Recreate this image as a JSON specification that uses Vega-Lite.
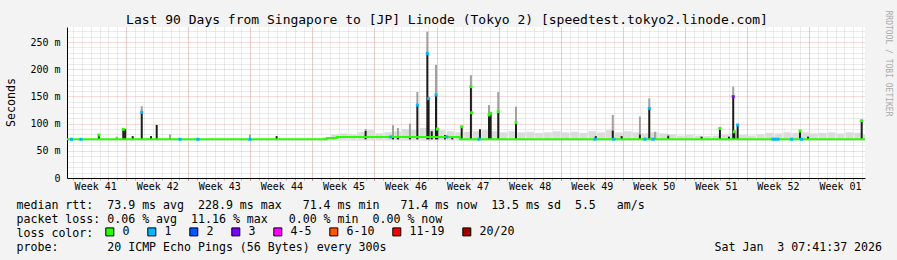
{
  "$schema": "https://vega.github.io/schema/vega-lite/v6.json",
  "width": 798,
  "height": 151,
  "autosize": {"type": "none"},
  "padding": {"left": 67, "top": 27, "right": 32, "bottom": 82},
  "background": "#f3f3f3",
  "config": {
    "view": {"fill": "white", "stroke": null},
    "font": "DejaVu Sans Mono"
  },
  "title": {
    "text": "Last 90 Days from Singapore to [JP] Linode (Tokyo 2) [speedtest.tokyo2.linode.com]",
    "font": "DejaVu Sans Mono",
    "fontSize": 13,
    "fontWeight": "normal",
    "color": "#000000",
    "anchor": "middle",
    "frame": "group",
    "dx": -19,
    "offset": -27,
    "baseline": "alphabetic"
  },
  "datasets": {
    "smoke": [
      {"t": "2025-11-03", "hi": 75}, {"t": "2025-11-04", "hi": 80}, {"t": "2025-11-05", "hi": 82},
      {"t": "2025-11-06", "hi": 80}, {"t": "2025-11-07", "hi": 84}, {"t": "2025-11-08", "hi": 88},
      {"t": "2025-11-09", "hi": 82}, {"t": "2025-11-10", "hi": 84}, {"t": "2025-11-11", "hi": 86},
      {"t": "2025-11-12", "hi": 90}, {"t": "2025-11-13", "hi": 88}, {"t": "2025-11-14", "hi": 92},
      {"t": "2025-11-15", "hi": 90}, {"t": "2025-11-16", "hi": 88}, {"t": "2025-11-17", "hi": 86},
      {"t": "2025-11-18", "hi": 84}, {"t": "2025-11-19", "hi": 85}, {"t": "2025-11-20", "hi": 86},
      {"t": "2025-11-21", "hi": 88}, {"t": "2025-11-22", "hi": 86}, {"t": "2025-11-23", "hi": 84},
      {"t": "2025-11-24", "hi": 86}, {"t": "2025-11-25", "hi": 84}, {"t": "2025-11-26", "hi": 85},
      {"t": "2025-11-27", "hi": 83}, {"t": "2025-11-28", "hi": 84}, {"t": "2025-11-29", "hi": 86},
      {"t": "2025-11-30", "hi": 84}, {"t": "2025-12-01", "hi": 85}, {"t": "2025-12-02", "hi": 83},
      {"t": "2025-12-03", "hi": 86}, {"t": "2025-12-04", "hi": 84}, {"t": "2025-12-05", "hi": 88},
      {"t": "2025-12-06", "hi": 84}, {"t": "2025-12-07", "hi": 86}, {"t": "2025-12-08", "hi": 84},
      {"t": "2025-12-09", "hi": 82}, {"t": "2025-12-10", "hi": 84}, {"t": "2025-12-11", "hi": 82},
      {"t": "2025-12-12", "hi": 80}, {"t": "2025-12-13", "hi": 78}, {"t": "2025-12-14", "hi": 79},
      {"t": "2025-12-15", "hi": 78}, {"t": "2025-12-16", "hi": 77}, {"t": "2025-12-17", "hi": 78},
      {"t": "2025-12-18", "hi": 80}, {"t": "2025-12-19", "hi": 82}, {"t": "2025-12-20", "hi": 79},
      {"t": "2025-12-21", "hi": 78}, {"t": "2025-12-22", "hi": 80}, {"t": "2025-12-23", "hi": 83},
      {"t": "2025-12-24", "hi": 82}, {"t": "2025-12-25", "hi": 84}, {"t": "2025-12-26", "hi": 83},
      {"t": "2025-12-27", "hi": 84}, {"t": "2025-12-28", "hi": 82}, {"t": "2025-12-29", "hi": 83},
      {"t": "2025-12-30", "hi": 84}, {"t": "2025-12-31", "hi": 82}, {"t": "2026-01-01", "hi": 84},
      {"t": "2026-01-02", "hi": 83}, {"t": "2026-01-03", "hi": 80}
    ],
    "spikes": [
      {"t": "2025-10-08T22:00:00Z", "top": 79, "tip": 80},
      {"t": "2025-10-10T22:00:00Z", "top": 72, "tip": 76},
      {"t": "2025-10-11T16:00:00Z", "top": 89.5},
      {"t": "2025-10-11T21:00:00Z", "top": 89.5},
      {"t": "2025-10-12T17:30:00Z", "top": 77},
      {"t": "2025-10-13T18:00:00Z", "top": 120.7, "tip": 132},
      {"t": "2025-10-14T19:00:00Z", "top": 77},
      {"t": "2025-10-15T10:30:00Z", "top": 97.4, "tip": 98},
      {"t": "2025-10-16T22:30:00Z", "top": 72, "tip": 80},
      {"t": "2025-10-25T23:00:00Z", "top": 72, "tip": 80},
      {"t": "2025-10-28T23:00:00Z", "top": 77},
      {"t": "2025-11-08T00:00:00Z", "top": 86.4, "tip": 90},
      {"t": "2025-11-11T02:00:00Z", "top": 76, "tip": 97},
      {"t": "2025-11-11T15:30:00Z", "top": 76, "tip": 92},
      {"t": "2025-11-13T00:00:00Z", "top": 76, "tip": 100},
      {"t": "2025-11-13T20:00:00Z", "top": 134, "tip": 158},
      {"t": "2025-11-14T23:00:00Z", "top": 229, "tip": 269},
      {"t": "2025-11-15T02:30:00Z", "top": 146},
      {"t": "2025-11-15T11:00:00Z", "top": 86},
      {"t": "2025-11-15T22:30:00Z", "top": 152.6, "tip": 208},
      {"t": "2025-11-16T02:00:00Z", "top": 90},
      {"t": "2025-11-16T23:00:00Z", "top": 79},
      {"t": "2025-11-17T18:30:00Z", "top": 77},
      {"t": "2025-11-18T20:00:00Z", "top": 94.3},
      {"t": "2025-11-19T21:00:00Z", "top": 168, "tip": 189},
      {"t": "2025-11-20T21:30:00Z", "top": 89.5},
      {"t": "2025-11-21T22:00:00Z", "top": 116, "tip": 134},
      {"t": "2025-11-22T02:30:00Z", "top": 119},
      {"t": "2025-11-22T23:00:00Z", "top": 122, "tip": 158},
      {"t": "2025-11-24T23:00:00Z", "top": 101.7, "tip": 131},
      {"t": "2025-12-03T23:00:00Z", "top": 77},
      {"t": "2025-12-05T21:00:00Z", "top": 87, "tip": 116},
      {"t": "2025-12-06T21:00:00Z", "top": 77},
      {"t": "2025-12-08T22:30:00Z", "top": 80, "tip": 113},
      {"t": "2025-12-09T23:45:00Z", "top": 128, "tip": 146.5},
      {"t": "2025-12-10T15:30:00Z", "top": 72, "tip": 85},
      {"t": "2025-12-12T03:00:00Z", "top": 77, "tip": 80},
      {"t": "2025-12-15T21:30:00Z", "top": 76},
      {"t": "2025-12-17T23:00:00Z", "top": 91.2},
      {"t": "2025-12-18T23:30:00Z", "top": 76},
      {"t": "2025-12-19T11:00:00Z", "top": 149.5, "tip": 168},
      {"t": "2025-12-19T14:00:00Z", "top": 85},
      {"t": "2025-12-19T23:00:00Z", "top": 97.4},
      {"t": "2025-12-26T23:45:00Z", "top": 86.4, "tip": 88},
      {"t": "2025-12-27T21:30:00Z", "top": 76},
      {"t": "2026-01-02T22:45:00Z", "top": 105.4, "tip": 107}
    ],
    "median": [
      {"t": "2025-10-05T07:41:37Z", "v": 71.2},
      {"t": "2025-11-03T15:00:00Z", "v": 73.5},
      {"t": "2025-11-04T18:00:00Z", "v": 75.5},
      {"t": "2025-11-18T15:00:00Z", "v": 71.4},
      {"t": "2026-01-03T07:41:37Z", "v": 71.4}
    ],
    "loss": [
      {"t": "2025-10-05T20:00:00Z", "v": 71.2, "loss": "1"},
      {"t": "2025-10-06T21:30:00Z", "v": 71.2, "loss": "1"},
      {"t": "2025-10-18T01:30:00Z", "v": 71.2, "loss": "1"},
      {"t": "2025-10-20T02:00:00Z", "v": 71.2, "loss": "1"},
      {"t": "2025-10-25T23:00:00Z", "v": 71.2, "loss": "1"},
      {"t": "2025-11-10T20:00:00Z", "v": 75.5, "loss": "1"},
      {"t": "2025-11-17T03:30:00Z", "v": 75.5, "loss": "1"},
      {"t": "2025-11-20T19:00:00Z", "v": 71.4, "loss": "1"},
      {"t": "2025-12-03T21:00:00Z", "v": 71.4, "loss": "1"},
      {"t": "2025-12-06T00:00:00Z", "v": 71.4, "loss": "1"},
      {"t": "2025-12-09T12:00:00Z", "v": 71.4, "loss": "1"},
      {"t": "2025-12-10T10:00:00Z", "v": 71.4, "loss": "1"},
      {"t": "2025-12-23T22:30:00Z", "v": 71.4, "loss": "1"},
      {"t": "2025-12-24T04:00:00Z", "v": 71.4, "loss": "1"},
      {"t": "2025-12-24T12:00:00Z", "v": 71.4, "loss": "1"},
      {"t": "2025-12-26T01:00:00Z", "v": 71.4, "loss": "1"},
      {"t": "2025-12-27T04:00:00Z", "v": 71.4, "loss": "1"},
      {"t": "2025-10-08T22:00:00Z", "v": 79, "loss": "0"},
      {"t": "2025-10-11T16:00:00Z", "v": 89.5, "loss": "0"},
      {"t": "2025-10-13T18:00:00Z", "v": 120.7, "loss": "1"},
      {"t": "2025-11-13T20:00:00Z", "v": 134, "loss": "1"},
      {"t": "2025-11-14T23:00:00Z", "v": 229, "loss": "1"},
      {"t": "2025-11-15T02:30:00Z", "v": 146, "loss": "1"},
      {"t": "2025-11-15T22:30:00Z", "v": 152.6, "loss": "1"},
      {"t": "2025-11-16T02:00:00Z", "v": 90, "loss": "0"},
      {"t": "2025-11-18T20:00:00Z", "v": 94.3, "loss": "0"},
      {"t": "2025-11-19T21:00:00Z", "v": 168, "loss": "0"},
      {"t": "2025-11-19T23:00:00Z", "v": 120, "loss": "0"},
      {"t": "2025-11-21T22:00:00Z", "v": 116, "loss": "0"},
      {"t": "2025-11-22T02:30:00Z", "v": 119, "loss": "0"},
      {"t": "2025-11-22T23:00:00Z", "v": 122, "loss": "0"},
      {"t": "2025-11-24T23:00:00Z", "v": 101.7, "loss": "0"},
      {"t": "2025-12-09T23:45:00Z", "v": 128, "loss": "1"},
      {"t": "2025-12-17T23:00:00Z", "v": 91.2, "loss": "0"},
      {"t": "2025-12-19T11:00:00Z", "v": 149.5, "loss": "3"},
      {"t": "2025-12-19T14:00:00Z", "v": 85, "loss": "0"},
      {"t": "2025-12-19T23:00:00Z", "v": 97.4, "loss": "1"},
      {"t": "2025-12-26T23:45:00Z", "v": 86.4, "loss": "0"},
      {"t": "2026-01-02T22:45:00Z", "v": 105.4, "loss": "0"}
    ]
  },
  "layer": [
    {
      "data": {"name": "smoke"},
      "mark": {"type": "bar", "color": "#dcdcdc", "clip": true},
      "encoding": {
        "x": {
          "field": "t", "type": "temporal", "timeUnit": {"unit": "yearmonthdate", "utc": true},
          "scale": {"type": "utc", "nice": false, "domain": [{"year": 2025, "month": 10, "date": 5, "hours": 7, "minutes": 41, "seconds": 37, "utc": true}, {"year": 2026, "month": 1, "date": 3, "hours": 7, "minutes": 41, "seconds": 37, "utc": true}]},
          "axis": {"orient": "bottom", "tickCount": {"interval": "day", "step": 1}, "grid": true, "gridColor": "#bababa", "gridDash": [1, 1], "gridOpacity": 0.6, "labels": false, "domain": false, "ticks": true, "tickSize": 2, "tickColor": "#aaaaaa", "title": null}
        },
        "y": {
          "field": "hi", "type": "quantitative",
          "scale": {"domain": [0, 277.6], "nice": false, "zero": true},
          "axis": {"orient": "left", "values": [10, 20, 30, 40, 60, 70, 80, 90, 110, 120, 130, 140, 160, 170, 180, 190, 210, 220, 230, 240, 260, 270], "grid": true, "gridColor": "#bababa", "gridDash": [1, 1], "gridOpacity": 0.6, "labels": false, "ticks": false, "domain": false, "title": null}
        },
        "y2": {"datum": 70}
      }
    },
    {
      "data": {"name": "spikes"},
      "transform": [{"filter": "datum.tip != null"}],
      "mark": {"type": "rule", "color": "#a0a0a0", "strokeWidth": 2},
      "encoding": {
        "x": {
          "field": "t", "type": "temporal",
          "scale": {"type": "utc", "nice": false, "domain": [{"year": 2025, "month": 10, "date": 5, "hours": 7, "minutes": 41, "seconds": 37, "utc": true}, {"year": 2026, "month": 1, "date": 3, "hours": 7, "minutes": 41, "seconds": 37, "utc": true}]},
          "axis": {"orient": "bottom", "tickCount": {"interval": "week", "step": 1}, "grid": true, "gridColor": "#e07070", "gridDash": [1, 1], "gridOpacity": 0.5, "labels": false, "domain": false, "ticks": true, "tickSize": 2, "tickColor": "#e07070", "title": null}
        },
        "y": {
          "field": "top", "type": "quantitative",
          "scale": {"domain": [0, 277.6], "nice": false, "zero": true},
          "axis": {"orient": "left", "values": [0, 50, 100, 150, 200, 250], "grid": true, "gridColor": "#e07070", "gridDash": [1, 1], "gridOpacity": 0.5, "labelExpr": "datum.value == 0 ? '0' : datum.value + ' m'", "labelFont": "DejaVu Sans Mono", "labelFontSize": 10, "labelColor": "#000000", "labelPadding": 7, "ticks": false, "tickSize": 0, "domain": true, "domainColor": "#000000", "title": "Seconds", "titleFont": "DejaVu Sans Mono", "titleFontSize": 11.6, "titleFontWeight": "normal", "titleColor": "#000000", "titleX": -56, "titleY": 75, "titleAngle": 270, "titleAlign": "center", "titleBaseline": "middle"}
        },
        "y2": {"field": "tip"}
      }
    },
    {
      "data": {"name": "spikes"},
      "mark": {"type": "rule", "color": "#1c1c1c", "strokeWidth": 2},
      "encoding": {
        "x": {
          "field": "t", "type": "temporal",
          "scale": {"type": "utc", "nice": false, "domain": [{"year": 2025, "month": 10, "date": 5, "hours": 7, "minutes": 41, "seconds": 37, "utc": true}, {"year": 2026, "month": 1, "date": 3, "hours": 7, "minutes": 41, "seconds": 37, "utc": true}]},
          "axis": {
            "orient": "bottom",
            "values": [
              {"year": 2025, "month": 10, "date": 8, "hours": 12, "utc": true},
              {"year": 2025, "month": 10, "date": 15, "hours": 12, "utc": true},
              {"year": 2025, "month": 10, "date": 22, "hours": 12, "utc": true},
              {"year": 2025, "month": 10, "date": 29, "hours": 12, "utc": true},
              {"year": 2025, "month": 11, "date": 5, "hours": 12, "utc": true},
              {"year": 2025, "month": 11, "date": 12, "hours": 12, "utc": true},
              {"year": 2025, "month": 11, "date": 19, "hours": 12, "utc": true},
              {"year": 2025, "month": 11, "date": 26, "hours": 12, "utc": true},
              {"year": 2025, "month": 12, "date": 3, "hours": 12, "utc": true},
              {"year": 2025, "month": 12, "date": 10, "hours": 12, "utc": true},
              {"year": 2025, "month": 12, "date": 17, "hours": 12, "utc": true},
              {"year": 2025, "month": 12, "date": 24, "hours": 12, "utc": true},
              {"year": 2025, "month": 12, "date": 31, "hours": 12, "utc": true}
            ],
            "labelExpr": "'Week ' + utcFormat(datum.value, '%V')",
            "labelFont": "DejaVu Sans Mono", "labelFontSize": 10, "labelColor": "#000000", "labelPadding": 3,
            "labelFlush": false, "labelOverlap": false, "labelBaseline": "top",
            "grid": false, "ticks": false, "tickSize": 0, "domain": true, "domainColor": "#000000",
            "title": [
              "median rtt:\u00a0\u00a073.9 ms avg\u00a0\u00a0228.9 ms max\u00a0\u00a0\u00a071.4 ms min\u00a0\u00a0\u00a071.4 ms now\u00a0\u00a013.5 ms sd\u00a0\u00a05.5\u00a0\u00a0\u00a0am/s",
              "packet loss: 0.06 % avg\u00a0\u00a011.16 % max\u00a0\u00a0\u00a00.00 % min\u00a0\u00a00.00 % now",
              "loss color:",
              "probe:\u00a0\u00a0\u00a0\u00a0\u00a0\u00a0\u00a020 ICMP Echo Pings (56 Bytes) every 300s\u00a0\u00a0\u00a0\u00a0\u00a0\u00a0\u00a0\u00a0\u00a0\u00a0\u00a0\u00a0\u00a0\u00a0\u00a0\u00a0\u00a0\u00a0\u00a0\u00a0\u00a0\u00a0\u00a0\u00a0\u00a0\u00a0\u00a0\u00a0\u00a0\u00a0\u00a0\u00a0\u00a0\u00a0\u00a0\u00a0\u00a0\u00a0\u00a0\u00a0\u00a0\u00a0\u00a0\u00a0\u00a0\u00a0\u00a0Sat Jan\u00a0\u00a03 07:41:37 2026"
            ],
            "titleFont": "DejaVu Sans Mono", "titleFontSize": 11.6, "titleFontWeight": "normal", "titleColor": "#000000",
            "titleAlign": "left", "titleAnchor": "start", "titleBaseline": "alphabetic", "titleAngle": 0,
            "titleX": -51, "titleY": 30, "titleLineHeight": 14
          }
        },
        "y": {
          "field": "top", "type": "quantitative",
          "scale": {"domain": [0, 277.6], "nice": false, "zero": true},
          "axis": {"orient": "right", "labels": false, "ticks": false, "domain": false, "grid": false, "title": "RRDTOOL / TOBI OETIKER", "titleFont": "DejaVu Sans Mono", "titleFontSize": 8, "titleFontWeight": "normal", "titleColor": "#aaaaaa", "titleAngle": 90, "titleX": 22, "titleY": 36, "titleAlign": "center", "titleBaseline": "middle"}
        },
        "y2": {"datum": 71}
      }
    },
    {
      "data": {"name": "median"},
      "mark": {"type": "line", "color": "#26ff00", "strokeWidth": 2, "interpolate": "step-after"},
      "encoding": {
        "x": {"field": "t", "type": "temporal", "scale": {"type": "utc", "nice": false, "domain": [{"year": 2025, "month": 10, "date": 5, "hours": 7, "minutes": 41, "seconds": 37, "utc": true}, {"year": 2026, "month": 1, "date": 3, "hours": 7, "minutes": 41, "seconds": 37, "utc": true}]}, "axis": null},
        "y": {"field": "v", "type": "quantitative", "scale": {"domain": [0, 277.6], "nice": false, "zero": true}, "axis": null}
      }
    },
    {
      "data": {"name": "loss"},
      "mark": {"type": "point", "shape": "square", "filled": true, "size": 9, "opacity": 1, "strokeWidth": 0},
      "encoding": {
        "x": {"field": "t", "type": "temporal", "scale": {"type": "utc", "nice": false, "domain": [{"year": 2025, "month": 10, "date": 5, "hours": 7, "minutes": 41, "seconds": 37, "utc": true}, {"year": 2026, "month": 1, "date": 3, "hours": 7, "minutes": 41, "seconds": 37, "utc": true}]}, "axis": null},
        "y": {"field": "v", "type": "quantitative", "scale": {"domain": [0, 277.6], "nice": false, "zero": true}, "axis": null},
        "color": {
          "field": "loss", "type": "nominal",
          "scale": {"domain": ["0", "1", "2", "3", "4-5", "6-10", "11-19", "20/20"], "range": ["#26ff00", "#00b8ff", "#0059ff", "#7e00ff", "#ff00ff", "#ff5500", "#ff0000", "#a10000"]},
          "legend": {
            "orient": "none", "legendX": 37, "legendY": 199, "direction": "horizontal", "title": null,
            "symbolType": "square", "symbolSize": 64, "symbolStrokeColor": "#000000", "symbolStrokeWidth": 1,
            "labelFont": "DejaVu Sans Mono", "labelFontSize": 11.6, "labelColor": "#000000", "labelOffset": 7,
            "columnPadding": 15, "padding": 0,
            "encode": {"symbols": {"update": {"size": {"value": 64}, "stroke": {"value": "#000000"}, "strokeWidth": {"value": 1}, "opacity": {"value": 1}}}}
          }
        }
      }
    }
  ],
  "resolve": {"axis": {"x": "independent", "y": "independent"}}
}
